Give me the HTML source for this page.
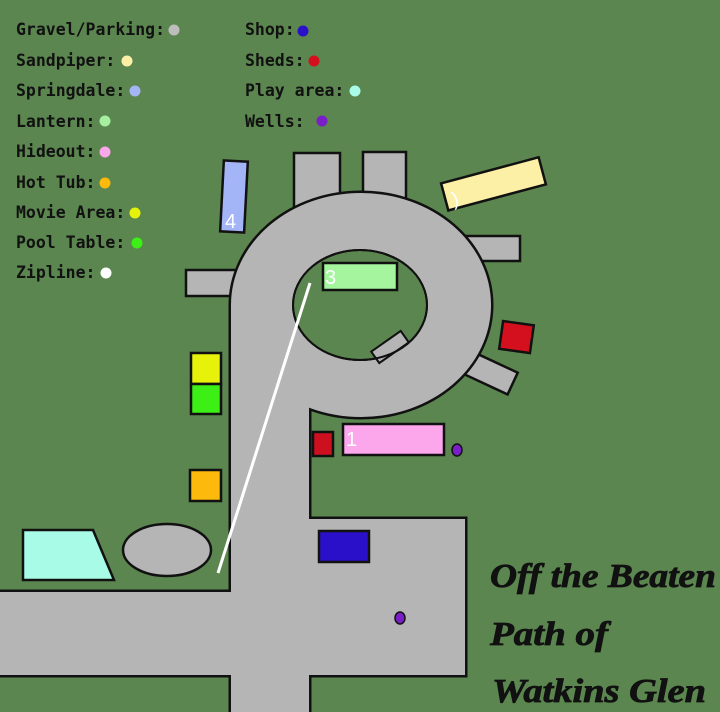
<!DOCTYPE html>
<html><head><style>
body{margin:0;background:#5b864f;}
svg{display:block}
.lg{font-family:"DejaVu Sans Mono","Liberation Mono",monospace;font-weight:bold;font-size:16.5px;fill:#111}
.tt{font-family:"Liberation Serif",serif;font-weight:bold;font-style:italic;font-size:34px;fill:#111;stroke:#111;stroke-width:0.8}
.num{font-family:"Liberation Sans",sans-serif;font-size:20px;fill:#fff}
</style></head><body>
<svg width="720" height="712" viewBox="0 0 720 712" xmlns="http://www.w3.org/2000/svg">
<rect width="720" height="712" fill="#5b864f"/>
<g fill="#b5b5b5" stroke="#111" stroke-width="2.5">
<rect x="294" y="153" width="46" height="60"/>
<rect x="363" y="152" width="43" height="55"/>
<rect x="460" y="236" width="60" height="25"/>
<rect x="186" y="270" width="50" height="26"/>
<rect x="465" y="361" width="50" height="24" transform="rotate(25 490 373)"/>
</g>
<g fill="#b5b5b5" stroke="#111" stroke-width="5">
<ellipse cx="361" cy="305" rx="130" ry="112"/>
<rect x="231" y="305" width="78" height="420"/>
<rect x="0" y="592" width="240" height="83"/>
<rect x="300" y="519" width="165" height="156"/>
</g>
<g fill="#b5b5b5">
<ellipse cx="361" cy="305" rx="130" ry="112"/>
<rect x="231" y="305" width="78" height="420"/>
<rect x="0" y="592" width="240" height="83"/>
<rect x="300" y="519" width="165" height="156"/>
</g>
<ellipse cx="360" cy="305" rx="67" ry="55" fill="#5b864f" stroke="#111" stroke-width="2"/>
<rect x="372" y="340" width="36" height="14" fill="#b5b5b5" stroke="#111" stroke-width="2" transform="rotate(-35 390 347)"/>
<ellipse cx="360" cy="305" rx="67" ry="55" fill="none" stroke="#111" stroke-width="2"/>
<g stroke="#111" stroke-width="2.5">
<rect x="222" y="161" width="24" height="71" fill="#a3b4f7" transform="rotate(3 234 196)"/>
<rect x="443" y="170" width="101" height="28" fill="#fcefa6" transform="rotate(-15 493 184)"/>
<rect x="323" y="263" width="74" height="27" fill="#a5f59f"/>
<rect x="501" y="323" width="31" height="28" fill="#d4101e" transform="rotate(8 516 337)"/>
<rect x="191" y="353" width="30" height="31" fill="#e6f20a"/>
<rect x="191" y="384" width="30" height="30" fill="#3cf016"/>
<rect x="190" y="470" width="31" height="31" fill="#fdb90c"/>
<rect x="313" y="432" width="20" height="24" fill="#cc1020"/>
<rect x="343" y="424" width="101" height="31" fill="#fca6ec"/>
<rect x="319" y="531" width="50" height="31" fill="#2a10c8"/>
<polygon points="23,530 93,530 114,580 23,580" fill="#a8fbe6"/>
<ellipse cx="167" cy="550" rx="44" ry="26" fill="#b5b5b5"/>
</g>
<g fill="#7a1fc8" stroke="#111" stroke-width="1.5">
<ellipse cx="457" cy="450" rx="5" ry="6"/>
<ellipse cx="400" cy="618" rx="5" ry="6"/>
</g>
<line x1="310" y1="283" x2="218" y2="573" stroke="#fff" stroke-width="3"/>
<text class="num" x="225" y="228">4</text>
<text class="num" x="325" y="284">3</text>
<text class="num" x="346" y="446">1</text>
<text class="num" x="451" y="205" transform="rotate(-15 456 196)">)</text>
<g class="lg">
<text x="16" y="35">Gravel/Parking:</text>
<text x="16" y="66">Sandpiper:</text>
<text x="16" y="96">Springdale:</text>
<text x="16" y="127">Lantern:</text>
<text x="16" y="157">Hideout:</text>
<text x="16" y="188">Hot Tub:</text>
<text x="16" y="218">Movie Area:</text>
<text x="16" y="248">Pool Table:</text>
<text x="16" y="278">Zipline:</text>
<text x="245" y="35">Shop:</text>
<text x="245" y="66">Sheds:</text>
<text x="245" y="96">Play area:</text>
<text x="245" y="127">Wells:</text>
</g>
<g>
<circle cx="174" cy="30" r="5.5" fill="#bdbdbd"/>
<circle cx="127" cy="61" r="5.5" fill="#fcefa6"/>
<circle cx="135" cy="91" r="5.5" fill="#a3b4f7"/>
<circle cx="105" cy="121" r="5.5" fill="#a5f0a0"/>
<circle cx="105" cy="152" r="5.5" fill="#fca6ec"/>
<circle cx="105" cy="183" r="5.5" fill="#fdb90c"/>
<circle cx="135" cy="213" r="5.5" fill="#e6f20a"/>
<circle cx="137" cy="243" r="5.5" fill="#3cf016"/>
<circle cx="106" cy="273" r="5.5" fill="#ffffff"/>
<circle cx="303" cy="31" r="5.5" fill="#2a10c8"/>
<circle cx="314" cy="61" r="5.5" fill="#d4101e"/>
<circle cx="355" cy="91" r="5.5" fill="#a8fbe6"/>
<circle cx="322" cy="121" r="5.5" fill="#7a1fc8"/>
</g>
<g class="tt">
<text x="490" y="587" textLength="226" lengthAdjust="spacingAndGlyphs">Off the Beaten</text>
<text x="490" y="645" textLength="118" lengthAdjust="spacingAndGlyphs">Path of</text>
<text x="492" y="702" textLength="214" lengthAdjust="spacingAndGlyphs">Watkins Glen</text>
</g>
</svg>
</body></html>
